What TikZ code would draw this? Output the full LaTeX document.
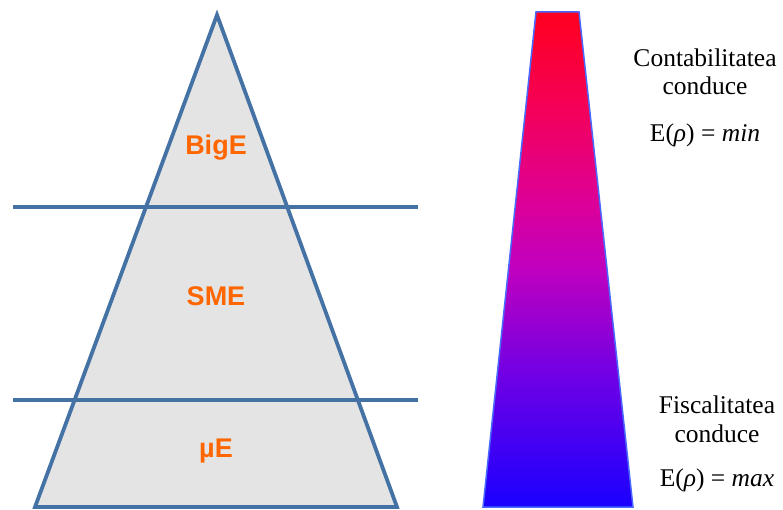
\documentclass[tikz,border=0pt]{standalone}
\usepackage{fontspec}
\setmainfont{Liberation Serif}
\newfontfamily\levelfont{Liberation Sans}

\definecolor{edgeblue}{RGB}{68,114,165}
\definecolor{lvlorange}{RGB}{255,102,0}
\definecolor{pyrfill}{RGB}{228,228,228}
\definecolor{rimblue}{RGB}{72,104,255}

% gradient rosu -> albastru
\pgfdeclareverticalshading{heatbar}{100bp}{
  rgb(0bp)=(0.10,0,1);
  rgb(25bp)=(0.10,0,1);
  rgb(38bp)=(0.43,0,0.90);
  rgb(49bp)=(0.75,0,0.75);
  rgb(56bp)=(0.87,0,0.59);
  rgb(66bp)=(0.96,0,0.33);
  rgb(75bp)=(1,0,0.12);
  rgb(100bp)=(1,0,0.12)}

\begin{document}
\begin{tikzpicture}[
      x=1pt, y=-1pt,
      every node/.style={inner sep=0pt},
      edge/.style={draw=edgeblue, line width=3.8pt},
      lvl/.style={font=\levelfont\bfseries\fontsize{27}{27}\selectfont,
                  text=lvlorange, anchor=base},
      note/.style={font=\fontsize{25.5}{29}\selectfont, anchor=base}
    ]
    \useasboundingbox (0,0) rectangle (783,510);

    % Piramida
    \coordinate (apex) at (217,15);
    \coordinate (bl)   at (35,507);
    \coordinate (br)   at (397,507);
    \filldraw[edge, fill=pyrfill, line join=miter] (bl) -- (apex) -- (br) -- cycle;

    % Linii de separare
    \draw[edge] (13,207) -- (418,207);
    \draw[edge] (13,400) -- (418,400);

    % Niveluri
    \node[lvl] (big) at (216,155) {BigE};
    \node[lvl] (sme) at (216,305) {SME};
    \node[lvl] (mic) at (216,457) {µE};

    % Trapez cu gradient
    \coordinate (tl) at (536,12);
    \coordinate (tr) at (579,12);
    \coordinate (rb) at (633,507);
    \coordinate (lb) at (483,507);
    \shade[shading=heatbar] (tl) -- (tr) -- (rb) -- (lb) -- cycle;
    \draw[rimblue, line width=1.5pt] (tl) -- (tr) -- (rb) -- (lb) -- cycle;

    % Texte
    \node[note] (acct)     at (705,67)  {Contabilitatea};
    \node[note] (acctlead) at (705,95)  {conduce};
    \node[note] (emin)     at (705,142) {E(\textit{ρ}) = \textit{min}};
    \node[note] (fisc)     at (717,413) {Fiscalitatea};
    \node[note] (fisclead) at (717,442) {conduce};
    \node[note] (emax)     at (717,486) {E(\textit{ρ}) = \textit{max}};
  \end{tikzpicture}
\end{document}
